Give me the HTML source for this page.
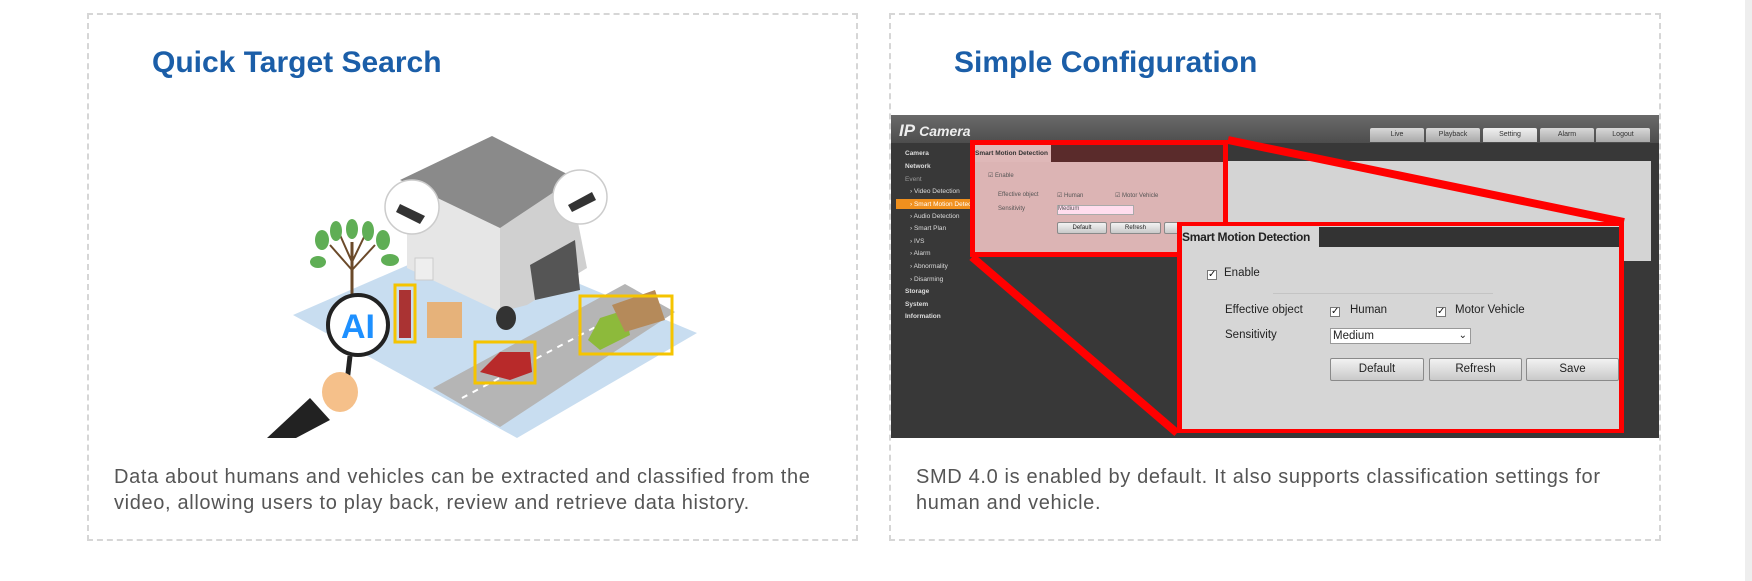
<!DOCTYPE html>
<html><head><meta charset="utf-8"><style>
*{margin:0;padding:0;box-sizing:border-box}
body{width:1752px;height:581px;background:#fff;position:relative;overflow:hidden;font-family:"Liberation Sans",sans-serif}
.a{position:absolute}
.card{position:absolute;top:13px;height:528px;border:2px dashed #d6d6d6}
.title{position:absolute;top:46px;font-size:30px;font-weight:bold;color:#1b5ea8;white-space:nowrap}
.desc{position:absolute;top:464px;font-size:20px;letter-spacing:0.65px;line-height:26px;color:#555;white-space:nowrap}
.sb{position:absolute;left:905px;font-size:6.5px;color:#ddd;white-space:nowrap}
.tab{position:absolute;top:128px;height:14px;width:54px;background:linear-gradient(#d8d8d8,#a9a9a9);border-radius:2px 2px 0 0;font-size:7px;color:#333;text-align:center;line-height:14px}
.btn{position:absolute;background:linear-gradient(#f2f2f2,#c9c9c9);border:1px solid #8a8a8a;border-radius:2px;text-align:center;color:#222}
.cb{position:absolute;width:10px;height:10px;background:#fff;border:1px solid #777;font-size:10px;line-height:8px;text-align:center;color:#111}
.lb{position:absolute;font-size:11.5px;color:#222;white-space:nowrap}
</style></head><body>
<div class="card" style="left:87px;width:771px"></div>
<div class="card" style="left:889px;width:772px"></div>
<div class="a" style="left:1745px;top:0;width:7px;height:581px;background:#eee"></div>

<div class="title" style="left:152px">Quick Target Search</div>
<div class="title" style="left:954px">Simple Configuration</div>

<div class="desc" style="left:114px">Data about humans and vehicles can be extracted and classified from the<br>video, allowing users to play back, review and retrieve data history.</div>
<div class="desc" style="left:916px">SMD 4.0 is enabled by default. It also supports classification settings for<br>human and vehicle.</div>

<!-- illustration -->
<svg class="a" style="left:0;top:0" width="870" height="450" viewBox="0 0 870 450">
<polygon points="293,315 470,238 697,333 517,438" fill="#c8ddf0"/>
<polygon points="433,388 625,284 675,312 500,427" fill="#b5b5b5"/>
<line x1="462" y1="398" x2="650" y2="298" stroke="#fff" stroke-width="2" stroke-dasharray="6 6"/>
<polygon points="407,182 500,225 500,312 407,268" fill="#e6e6e6"/>
<polygon points="500,225 570,182 587,268 527,305 500,312" fill="#d0d0d0"/>
<polygon points="400,180 492,136 575,178 500,228" fill="#8a8a8a"/>
<polygon points="530,265 575,240 580,290 535,300" fill="#555"/>
<rect x="415" y="258" width="18" height="22" fill="#eee" stroke="#ccc"/>
<circle cx="412" cy="207" r="27" fill="#fff" stroke="#ccc" stroke-width="1.5"/>
<polygon points="400,204 425,216 420,224 396,212" fill="#333"/>
<circle cx="580" cy="197" r="27" fill="#fff" stroke="#ccc" stroke-width="1.5"/>
<polygon points="568,205 592,192 596,200 572,212" fill="#333"/>
<line x1="352" y1="242" x2="352" y2="296" stroke="#6b4a2a" stroke-width="3"/>
<path d="M352 270 L330 245 M352 270 L375 245 M352 262 L340 235 M352 262 L365 235" stroke="#6b4a2a" stroke-width="2" fill="none"/>
<g fill="#5fae55"><ellipse cx="322" cy="240" rx="7" ry="10"/><ellipse cx="336" cy="231" rx="6" ry="10"/><ellipse cx="352" cy="229" rx="6" ry="10"/><ellipse cx="368" cy="231" rx="6" ry="10"/><ellipse cx="383" cy="240" rx="7" ry="10"/><ellipse cx="318" cy="262" rx="8" ry="6"/><ellipse cx="390" cy="260" rx="9" ry="6"/></g>
<rect x="427" y="302" width="35" height="36" fill="#e6b27a"/>
<rect x="399" y="290" width="12" height="48" fill="#a33"/>
<ellipse cx="506" cy="318" rx="10" ry="12" fill="#333"/>
<polygon points="480,372 500,352 530,352 532,372 510,380" fill="#b82a2a"/>
<polygon points="588,340 600,318 625,310 630,335 600,350" fill="#8dba3b"/>
<polygon points="612,305 655,290 665,320 625,332" fill="#b58a5a"/>
<rect x="395" y="285" width="20" height="57" fill="none" stroke="#f5c400" stroke-width="3"/>
<rect x="475" y="342" width="60" height="41" fill="none" stroke="#f5c400" stroke-width="3"/>
<rect x="580" y="296" width="92" height="58" fill="none" stroke="#f5c400" stroke-width="3"/>
<line x1="350" y1="356" x2="347" y2="382" stroke="#222" stroke-width="5"/>
<ellipse cx="340" cy="392" rx="18" ry="20" fill="#f5c08a"/>
<polygon points="267,438 310,398 330,420 296,438" fill="#222"/>
<circle cx="358" cy="325" r="30" fill="#fff" stroke="#222" stroke-width="4"/>
<text x="358" y="338" text-anchor="middle" font-family="Liberation Sans" font-weight="bold" font-size="34" fill="#1e90ff">AI</text>
</svg>

<!-- screenshot -->
<div class="a" style="left:891px;top:115px;width:768px;height:323px;background:#383838"></div>
<div class="a" style="left:891px;top:115px;width:768px;height:28px;background:linear-gradient(#6a6a6a,#4d4d4d)"></div>
<div class="a" style="left:899px;top:121px;font-size:17px;font-weight:bold;font-style:italic;color:#eee">IP <span style="font-size:14px">Camera</span></div>
<div class="tab" style="left:1370px">Live</div>
<div class="tab" style="left:1426px">Playback</div>
<div class="tab" style="left:1483px;background:linear-gradient(#f0f0f0,#c8c8c8)">Setting</div>
<div class="tab" style="left:1540px">Alarm</div>
<div class="tab" style="left:1596px">Logout</div>
<div class="a" style="left:896px;top:199px;width:74px;height:10px;background:#f0901e"></div>
<div class="sb" style="top:150px;font-weight:bold">Camera</div>
<div class="sb" style="top:163px;font-weight:bold">Network</div>
<div class="sb" style="top:176px;color:#999">Event</div>
<div class="sb" style="top:188px;left:910px">› Video Detection</div>
<div class="sb" style="top:201px;left:910px;color:#fff">› Smart Motion Detectio</div>
<div class="sb" style="top:213px;left:910px">› Audio Detection</div>
<div class="sb" style="top:225px;left:910px">› Smart Plan</div>
<div class="sb" style="top:238px;left:910px">› IVS</div>
<div class="sb" style="top:250px;left:910px">› Alarm</div>
<div class="sb" style="top:263px;left:910px">› Abnormality</div>
<div class="sb" style="top:276px;left:910px">› Disarming</div>
<div class="sb" style="top:288px;font-weight:bold">Storage</div>
<div class="sb" style="top:301px;font-weight:bold">System</div>
<div class="sb" style="top:313px;font-weight:bold">Information</div>

<div class="a" style="left:1228px;top:161px;width:423px;height:100px;background:#d4d4d4"></div>
<!-- small panel -->
<div class="a" style="left:970px;top:140px;width:258px;height:117px;background:#dcb4b4;border:5px solid #f00"></div>
<div class="a" style="left:975px;top:145px;width:248px;height:17px;background:#5a2b2b"></div>
<div class="a" style="left:975px;top:145px;width:76px;height:17px;background:#dfb8b8;font-size:6.5px;font-weight:bold;line-height:17px;color:#333;white-space:nowrap;overflow:hidden">Smart Motion Detection</div>
<div class="a" style="left:988px;top:172px;font-size:6px;color:#555">☑ Enable</div>
<div class="a" style="left:998px;top:192px;font-size:6px;color:#555;white-space:nowrap">Effective object</div>
<div class="a" style="left:1057px;top:192px;font-size:6px;color:#555;white-space:nowrap">☑ Human</div>
<div class="a" style="left:1115px;top:192px;font-size:6px;color:#555;white-space:nowrap">☑ Motor Vehicle</div>
<div class="a" style="left:998px;top:206px;font-size:6px;color:#555">Sensitivity</div>
<div class="a" style="left:1057px;top:205px;width:77px;height:10px;background:#fde;border:1px solid #aaa;font-size:6px;color:#555">Medium</div>
<div class="btn" style="left:1057px;top:222px;width:50px;height:12px;font-size:6px;line-height:10px">Default</div>
<div class="btn" style="left:1110px;top:222px;width:51px;height:12px;font-size:6px;line-height:10px">Refresh</div>
<div class="btn" style="left:1164px;top:222px;width:50px;height:12px"></div>

<svg class="a" style="left:0;top:0" width="1752" height="581">
<line x1="1228" y1="140" x2="1624" y2="222" stroke="#f00" stroke-width="8"/>
<line x1="972" y1="257" x2="1177" y2="433" stroke="#f00" stroke-width="8"/>
</svg>

<!-- big panel -->
<div class="a" style="left:1177px;top:222px;width:447px;height:211px;background:#d6d6d6;border:5px solid #f00;border-top-width:4px;border-bottom-width:4px"></div>
<div class="a" style="left:1182px;top:227px;width:437px;height:20px;background:#333"></div>
<div class="a" style="left:1182px;top:227px;width:137px;height:20px;background:#d6d6d6;font-size:12px;font-weight:bold;line-height:20px;color:#222;white-space:nowrap;letter-spacing:-0.3px">Smart Motion Detection</div>
<div class="cb" style="left:1207px;top:270px">✓</div>
<div class="lb" style="left:1224px;top:267px">Enable</div>
<div class="a" style="left:1273px;top:293px;width:220px;height:1px;background:#c4c4c4"></div>
<div class="lb" style="left:1225px;top:304px">Effective object</div>
<div class="cb" style="left:1330px;top:307px">✓</div>
<div class="lb" style="left:1350px;top:304px">Human</div>
<div class="cb" style="left:1436px;top:307px">✓</div>
<div class="lb" style="left:1455px;top:304px">Motor Vehicle</div>
<div class="lb" style="left:1225px;top:329px">Sensitivity</div>
<div class="a" style="left:1330px;top:328px;width:141px;height:16px;background:#fff;border:1px solid #999;font-size:11.5px;line-height:14px;padding-left:2px;color:#222">Medium<span style="position:absolute;right:3px;top:0;font-size:10px">⌄</span></div>
<div class="btn" style="left:1330px;top:358px;width:94px;height:23px;font-size:11.5px;line-height:21px">Default</div>
<div class="btn" style="left:1429px;top:358px;width:93px;height:23px;font-size:11.5px;line-height:21px">Refresh</div>
<div class="btn" style="left:1526px;top:358px;width:93px;height:23px;font-size:11.5px;line-height:21px">Save</div>
</body></html>
